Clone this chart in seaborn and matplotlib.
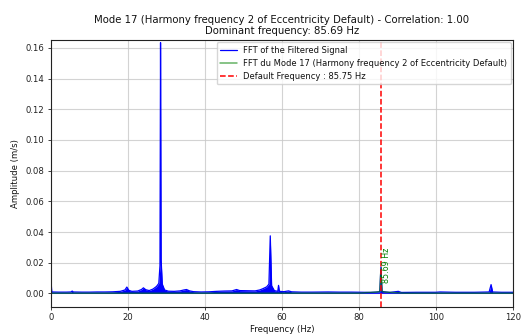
import numpy as np
import pandas as pd
import seaborn as sns
import matplotlib.pyplot as plt

# ---- values ----
mode_no = 17
mode_name = "Harmony frequency 2 of Eccentricity Default"
correlation = 1.00
dominant_freq = 85.69
default_freq = 85.75

# FFT of the filtered signal (envelope of the spectrum)
sig_freq = [0.0, 0.2, 2.0, 4.0, 5.2, 5.5, 5.8, 8.0, 10.0, 12.0, 14.0, 16.0, 18.0,
            19.2, 19.7, 20.2, 21.0, 22.5, 23.5, 24.0, 24.6, 25.5, 26.5, 27.4,
            28.0, 28.3, 28.45, 28.6, 28.9, 29.5, 30.5, 32.0, 33.5, 34.5, 35.2,
            36.0, 37.0, 39.0, 41.0, 43.0, 45.0, 47.0, 48.2, 49.0, 51.0, 53.0,
            54.2, 55.0, 56.0, 56.6, 56.95, 57.3, 58.0, 58.9, 59.1, 59.3, 60.5,
            61.7, 62.5, 65.0, 68.0, 72.0, 75.0, 78.0, 81.0, 83.0, 85.4, 85.69,
            85.95, 88.0, 90.2, 91.0, 95.0, 100.0, 101.0, 105.0, 110.0, 113.8,
            114.3, 114.7, 117.0, 120.0]
sig_amp = [0.0085, 0.0009, 0.0008, 0.0008, 0.0009, 0.0015, 0.0009, 0.0008, 0.0008,
           0.0009, 0.0009, 0.0010, 0.0013, 0.0022, 0.0041, 0.0020, 0.0013, 0.0015,
           0.0025, 0.0036, 0.0024, 0.0018, 0.0028, 0.0045, 0.0065, 0.0180, 0.1635,
           0.0220, 0.0060, 0.0022, 0.0014, 0.0013, 0.0016, 0.0022, 0.0025, 0.0016,
           0.0011, 0.0009, 0.0010, 0.0013, 0.0015, 0.0016, 0.0025, 0.0018, 0.0017,
           0.0016, 0.0022, 0.0030, 0.0042, 0.0060, 0.0375, 0.0050, 0.0018, 0.0013,
           0.0052, 0.0013, 0.0011, 0.0016, 0.0010, 0.0008, 0.0008, 0.0009, 0.0008,
           0.0008, 0.0007, 0.0006, 0.0010, 0.0172, 0.0012, 0.0006, 0.0013, 0.0006,
           0.0007, 0.0007, 0.0009, 0.0007, 0.0007, 0.0009, 0.0057, 0.0009, 0.0007,
           0.0007]

# FFT of mode 17
mode_freq = [0.0, 20.0, 40.0, 60.0, 80.0, 82.0, 83.5, 84.5, 85.4, 85.69, 86.0,
             87.0, 88.5, 90.0, 92.0, 100.0, 120.0]
mode_amp = [0.0001, 0.0001, 0.0001, 0.0001, 0.0001, 0.0005, 0.0007, 0.0008, 0.0012,
            0.0155, 0.0012, 0.0008, 0.0006, 0.0004, 0.0001, 0.0001, 0.0001]

sig = pd.DataFrame({"freq": sig_freq, "amp": sig_amp})
mode = pd.DataFrame({"freq": mode_freq, "amp": mode_amp})

sns.set_style("ticks")
plt.rcParams['font.family'] = ['DejaVu Sans']
plt.rcParams['font.size'] = 6
plt.rcParams['text.color'] = '#111111'
plt.rcParams['axes.labelcolor'] = '#111111'

fig = plt.figure(figsize=(5.22, 3.36), dpi=100)
ax = fig.add_axes([0.0977, 0.0863, 0.8851, 0.7947])

ax.fill_between(sig["freq"], 0, sig["amp"], color="blue", lw=0)
sns.lineplot(data=sig, x="freq", y="amp", ax=ax, color="blue", lw=0.9,
             label="FFT of the Filtered Signal")
sns.lineplot(data=mode, x="freq", y="amp", ax=ax, color="green", alpha=0.6, lw=1.1,
             label="FFT du Mode %d (%s)" % (mode_no, mode_name))
ax.axvline(default_freq, color="red", ls="--", lw=1.1,
           label="Default Frequency : %.2f Hz" % default_freq)
ax.text(dominant_freq + 0.2, 0.0065, "%.2f Hz" % dominant_freq, rotation=90,
        color="green", fontsize=5.8, ha="left", va="bottom")

ax.set_xlim(0, 120)
ax.set_ylim(-0.0089, 0.1652)
ax.set_yticks([0.0, 0.02, 0.04, 0.06, 0.08, 0.10, 0.12, 0.14, 0.16])
ax.yaxis.set_major_formatter(plt.FormatStrFormatter("%.2f"))
ax.grid(True, color="#c8c8c8", alpha=0.8, lw=0.8)
ax.tick_params(labelsize=6.1, length=2.5, width=0.6, pad=2, colors="#222222")
for s in ax.spines.values():
    s.set_linewidth(0.8)
    s.set_color("#222222")
    s.set_visible(True)

ax.set_xlabel("Frequency (Hz)", fontsize=6.1, labelpad=2)
ax.set_ylabel("Amplitude (m/s)", fontsize=6.1, labelpad=4)
ax.set_title("Mode %d (%s) - Correlation: %.2f\nDominant frequency: %.2f Hz"
             % (mode_no, mode_name, correlation, dominant_freq), fontsize=7.3, pad=4)
ax.legend(loc="upper right", fontsize=6.0, framealpha=0.8, handlelength=2.0,
          borderaxespad=0.3)

fig.savefig("out.png", dpi=100)
